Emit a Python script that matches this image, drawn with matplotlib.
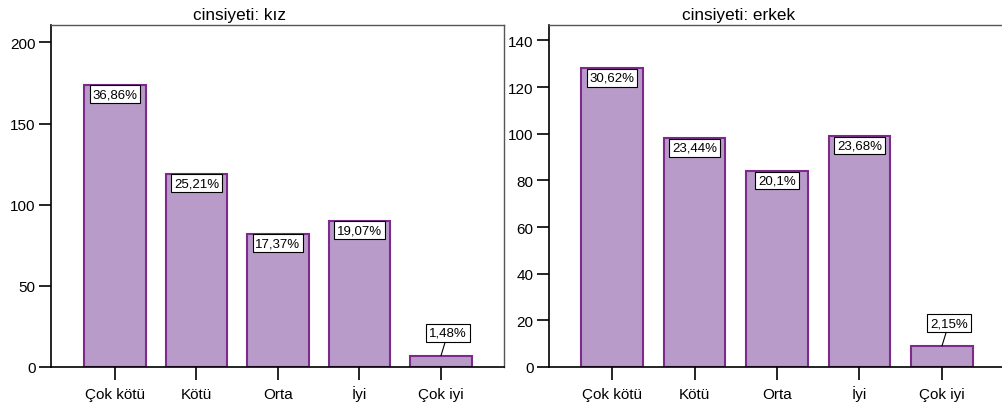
import matplotlib
matplotlib.use("Agg")
import matplotlib.pyplot as plt

plt.rcParams['font.family'] = ['Liberation Sans', 'DejaVu Sans']

categories = ["Çok kötü", "Kötü", "Orta", "İyi", "Çok iyi"]
kiz_counts = [174, 119, 82, 90, 7]
kiz_labels = ["36,86%", "25,21%", "17,37%", "19,07%", "1,48%"]
erkek_counts = [128, 98, 84, 99, 9]
erkek_labels = ["30,62%", "23,44%", "20,1%", "23,68%", "2,15%"]
titles = ["cinsiyeti: kız", "cinsiyeti: erkek"]

W, H = 1002, 406
fig = plt.figure(figsize=(W / 100, H / 100), dpi=100)

fill = "#b89bc9"
edge = "#7d2a8c"


def px_axes(x0, y0, x1, y1):
    return fig.add_axes([x0 / W, 1 - y1 / H, (x1 - x0) / W, (y1 - y0) / H])


panels = [
    dict(rect=(51, 26, 504, 368), counts=kiz_counts, labels=kiz_labels,
         xlim=(-0.785, 4.773), ylim=(0, 210.7), yticks=[0, 50, 100, 150, 200],
         width=0.76, title=titles[0], title_x=239.5),
    dict(rect=(549, 26, 1003, 368), counts=erkek_counts, labels=erkek_labels,
         xlim=(-0.764, 4.74), ylim=(0, 146.6), yticks=[0, 20, 40, 60, 80, 100, 120, 140],
         width=0.75, title=titles[1], title_x=738.5),
]

for p in panels:
    ax = px_axes(*p["rect"])
    x = list(range(len(categories)))
    ax.bar(x, p["counts"], width=p["width"], color=fill, edgecolor=edge, linewidth=1.5, zorder=2)
    ax.set_xlim(*p["xlim"])
    ax.set_ylim(*p["ylim"])
    ax.set_xticks(x)
    ax.set_xticklabels(categories, fontsize=11, va="baseline")
    ax.set_yticks(p["yticks"])
    ax.tick_params(axis='both', direction='out', length=9, width=1.2, labelsize=11)
    ax.tick_params(axis='y', pad=2)
    ax.tick_params(axis='x', pad=13.3)
    for s in ["left", "bottom"]:
        ax.spines[s].set_color("black")
        ax.spines[s].set_linewidth(1.2)
    for s in ["top", "right"]:
        ax.spines[s].set_color("#555555")
        ax.spines[s].set_linewidth(1.0)
    fig.text(p["title_x"] / W, 1 - 20 / H, p["title"], fontsize=12.3,
             ha="center", va="baseline")
    ymax = p["ylim"][1]
    for xi, v, lab in zip(x, p["counts"], p["labels"]):
        bb = dict(boxstyle="square,pad=0.22", facecolor="white", edgecolor="black", linewidth=0.8)
        if v / ymax > 0.15:
            ax.annotate(lab, xy=(xi, v), xytext=(0, -2.5), textcoords="offset points",
                        ha="center", va="top", fontsize=9.5, bbox=bb, zorder=4)
        else:
            ax.annotate(lab, xy=(xi, v), xytext=(5, 12), textcoords="offset points",
                        ha="center", va="bottom", fontsize=9.5, bbox=bb, zorder=4,
                        arrowprops=dict(arrowstyle="-", color="black", lw=0.8,
                                        shrinkA=0, shrinkB=0))

fig.savefig("out.png", dpi=100)
